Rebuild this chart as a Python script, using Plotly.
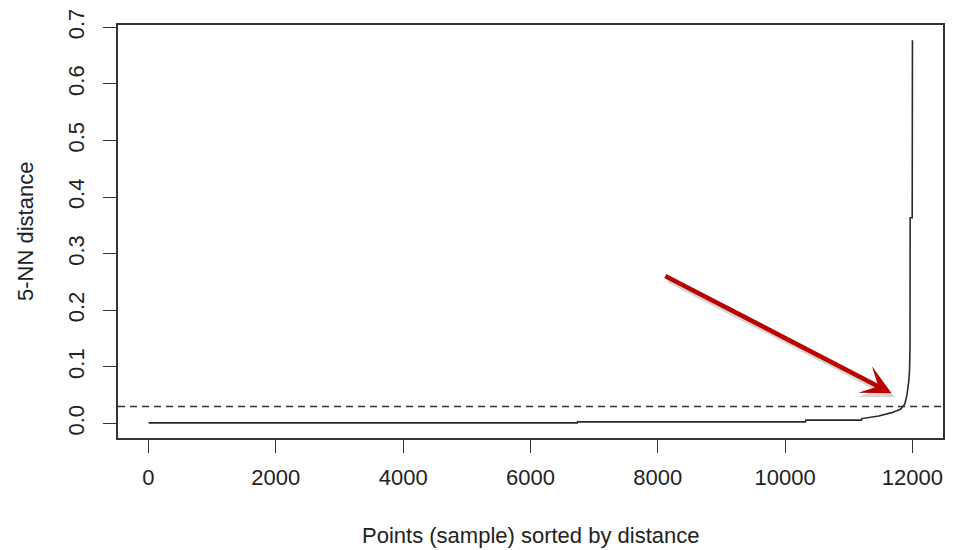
import plotly.graph_objects as go

# Sorted 5-NN distances (knots)
rank = [1, 6735, 6740, 10320, 10325, 11200, 11205, 11471, 11675, 11812,
        11879, 11915, 11942, 11955, 11962, 11964, 11996, 12000]
dist = [0.0012, 0.0012, 0.003, 0.003, 0.006, 0.006, 0.0088, 0.0135, 0.0193,
        0.0252, 0.034, 0.0515, 0.0747, 0.095, 0.14, 0.3635, 0.3635, 0.677]

eps_line = 0.03
x_ticks = [0, 2000, 4000, 6000, 8000, 10000, 12000]
x_ticktext = ["0", "2000", "4000", "6000", "8000", "10000", "12000"]
y_ticks = [0.0, 0.1, 0.2, 0.3, 0.4, 0.5, 0.6, 0.7]
y_ticktext = ["0.0", "0.1", "0.2", "0.3", "0.4", "0.5", "0.6", "0.7"]

arrow_head = (11671, 0.0537)
arrow_tail = (8094, 0.262)

FONT = "Liberation Sans, Arial, sans-serif"
TXT = "#222222"
AX = "#333333"

fig = go.Figure()
fig.add_trace(go.Scatter(x=rank, y=dist, mode="lines",
                         line=dict(color="#2a2a2a", width=1.6),
                         hoverinfo="skip", showlegend=False))

fig.add_shape(type="line", xref="paper", yref="y", x0=0, x1=1,
              y0=eps_line, y1=eps_line,
              line=dict(color="#333333", width=1.5, dash="7px,5px"))

# arrow shadow
fig.add_annotation(x=arrow_head[0], y=arrow_head[1], ax=arrow_tail[0], ay=arrow_tail[1],
                   xref="x", yref="y", axref="x", ayref="y", text="",
                   showarrow=True, arrowhead=3, arrowsize=1.1, arrowwidth=5,
                   arrowcolor="rgba(0,0,0,0.16)", xshift=3, yshift=-4)
fig.add_annotation(x=arrow_head[0], y=arrow_head[1], ax=arrow_tail[0], ay=arrow_tail[1],
                   xref="x", yref="y", axref="x", ayref="y", text="",
                   showarrow=True, arrowhead=3, arrowsize=1.1, arrowwidth=4.5,
                   arrowcolor="#bb0000")

fig.add_annotation(text="Points (sample) sorted by distance", xref="paper", yref="paper",
                   x=0.5, y=-0.236, xanchor="center", yanchor="middle",
                   showarrow=False, font=dict(family=FONT, size=22, color=TXT))
fig.add_annotation(text="5-NN distance", xref="paper", yref="paper",
                   x=-0.1121, y=0.5, xanchor="center", yanchor="middle", textangle=-90,
                   showarrow=False, font=dict(family=FONT, size=22, color=TXT))

# page has an 8px body margin, so the figure is sized to fit the window
fig.update_layout(
    width=948, height=542,
    margin=dict(l=110, r=13, t=17, b=112, autoexpand=False),
    plot_bgcolor="white", paper_bgcolor="white",
    xaxis=dict(range=[-479, 12480], tickvals=x_ticks, ticktext=x_ticktext,
               ticks="outside", ticklen=13, ticklabelstandoff=6,
               tickwidth=1.3, tickcolor=AX, showline=True, mirror=True,
               linecolor=AX, linewidth=1.5, showgrid=False, zeroline=False,
               tickfont=dict(family=FONT, size=22, color=TXT)),
    yaxis=dict(range=[-0.0255, 0.704], tickvals=y_ticks, ticktext=y_ticktext,
               ticks="outside", ticklen=13, ticklabelstandoff=10, tickwidth=1.3,
               tickcolor=AX, tickangle=-90, showline=True, mirror=True,
               linecolor=AX, linewidth=1.5, showgrid=False, zeroline=False,
               ticklabeloverflow="allow",
               tickfont=dict(family=FONT, size=22, color=TXT)),
)

fig.write_html("out.html")
